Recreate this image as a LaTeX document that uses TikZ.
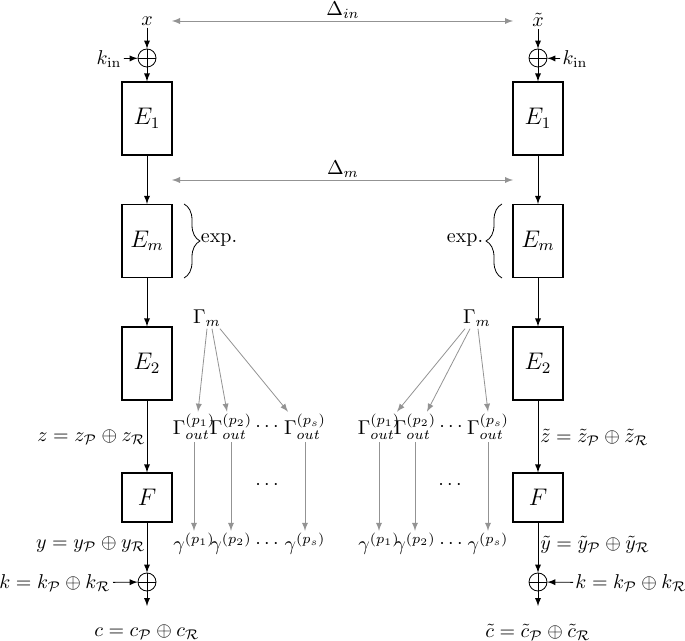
\documentclass[tikz,border=0pt]{standalone}
\usetikzlibrary{decorations.pathreplacing}
\begin{document}
\begin{tikzpicture}[x=0.5pt, y=-0.5pt, >=latex,
    block/.style={draw, semithick, minimum width=25pt, minimum height=36.5pt, font=\large},
    fblock/.style={block, minimum height=24.5pt},
    xorc/.style={circle, draw, minimum size=9pt, inner sep=0pt,
        path picture={\draw (path picture bounding box.north) -- (path picture bounding box.south)
            (path picture bounding box.west) -- (path picture bounding box.east);}},
    lbl/.style={inner sep=1pt},
    garrow/.style={->, gray!85},
    exbrace/.style={decorate, decoration={brace, amplitude=8pt}}]
    \useasboundingbox (0,0) rectangle (685,641);

    % Left chain
    \node [lbl] (xl) at (147,21) {$x$};
    \node [xorc] (xinl) at (147,58) {};
    \node [lbl] (kinl) at (109,59) {$k_{\mathrm{in}}$};
    \node [block] (e1l) at (147,118.5) {$E_1$};
    \node [block] (eml) at (147,241) {$E_m$};
    \node [block] (e2l) at (147,363.5) {$E_2$};
    \node [fblock] (fl) at (147,497.5) {$F$};
    \node [xorc] (xoutl) at (147,582) {};
    \node [lbl, anchor=east] (kl) at (113,583) {$k = k_{\mathcal{P}} \oplus k_{\mathcal{R}}$};
    \coordinate (endl) at (147,606);
    \node [lbl] (cl) at (147,632) {$c = c_{\mathcal{P}} \oplus c_{\mathcal{R}}$};
    \node [lbl, anchor=east] (zl) at (148,437) {$z = z_{\mathcal{P}} \oplus z_{\mathcal{R}}$};
    \node [lbl, anchor=east] (yl) at (148,545) {$y = y_{\mathcal{P}} \oplus y_{\mathcal{R}}$};
    \draw [->] (xl) -- (xinl);
    \draw [->] (kinl) -- (xinl);
    \draw [->] (xinl) -- (e1l);
    \draw [->] (e1l) -- (eml);
    \draw [->] (eml) -- (e2l);
    \draw [->] (e2l) -- (fl);
    \draw [->] (fl) -- (xoutl);
    \draw [->] (kl) -- (xoutl);
    \draw [->] (xoutl) -- (endl);

    % Right chain
    \node [lbl] (xr) at (538,20) {$\tilde{x}$};
    \node [xorc] (xinr) at (538,58) {};
    \node [lbl] (kinr) at (575,59) {$k_{\mathrm{in}}$};
    \node [block] (e1r) at (538,118.5) {$E_1$};
    \node [block] (emr) at (538,241) {$E_m$};
    \node [block] (e2r) at (538,363.5) {$E_2$};
    \node [fblock] (fr) at (538,497.5) {$F$};
    \node [xorc] (xoutr) at (538,582) {};
    \node [lbl, anchor=west] (kr) at (573,583) {$k = k_{\mathcal{P}} \oplus k_{\mathcal{R}}$};
    \coordinate (endr) at (538,606);
    \node [lbl] (cr) at (538,632) {$\tilde{c} = \tilde{c}_{\mathcal{P}} \oplus \tilde{c}_{\mathcal{R}}$};
    \node [lbl, anchor=west] (zr) at (538,437) {$\tilde{z} = \tilde{z}_{\mathcal{P}} \oplus \tilde{z}_{\mathcal{R}}$};
    \node [lbl, anchor=west] (yr) at (538,545) {$\tilde{y} = \tilde{y}_{\mathcal{P}} \oplus \tilde{y}_{\mathcal{R}}$};
    \draw [->] (xr) -- (xinr);
    \draw [->] (kinr) -- (xinr);
    \draw [->] (xinr) -- (e1r);
    \draw [->] (e1r) -- (emr);
    \draw [->] (emr) -- (e2r);
    \draw [->] (e2r) -- (fr);
    \draw [->] (fr) -- (xoutr);
    \draw [->] (kr) -- (xoutr);
    \draw [->] (xoutr) -- (endr);

    % Differences
    \coordinate (dinl) at (172,21);
    \coordinate (dinr) at (513,21);
    \coordinate (dml) at (172,180);
    \coordinate (dmr) at (513,180);
    \draw [<->, gray!85] (dinl) -- (dinr);
    \draw [<->, gray!85] (dml) -- (dmr);
    \node [lbl] (din) at (343,10) {$\Delta_{in}$};
    \node [lbl] (dm) at (343,169) {$\Delta_m$};

    % Expansion braces
    \draw [exbrace] (184,204) -- (184,278);
    \draw [exbrace] (502,278) -- (502,204);
    \node [lbl] (expl) at (219,240) {exp.};
    \node [lbl] (expr) at (465,240) {exp.};

    % Output differences, left
    \node [lbl] (gml) at (207,318) {$\Gamma_m$};
    \node [lbl] (go1l) at (194,427) {$\Gamma^{(p_1)}_{out}$};
    \node [lbl] (go2l) at (231,427) {$\Gamma^{(p_2)}_{out}$};
    \node [lbl] (godl) at (267,427) {$\cdots$};
    \node [lbl] (gosl) at (305,427) {$\Gamma^{(p_s)}_{out}$};
    \node [lbl] (mdl) at (267,485) {$\cdots$};
    \node [lbl] (ga1l) at (194,544) {$\gamma^{(p_1)}$};
    \node [lbl] (ga2l) at (231,544) {$\gamma^{(p_2)}$};
    \node [lbl] (gadl) at (267,544) {$\cdots$};
    \node [lbl] (gasl) at (305,544) {$\gamma^{(p_s)}$};
    \draw [garrow] (gml.south) -- ([xshift=2pt]go1l.north);
    \draw [garrow] ([xshift=2.5pt]gml.south) -- ([xshift=-2pt]go2l.north);
    \draw [garrow] ([xshift=6.5pt]gml.south) -- ([xshift=-8.5pt]gosl.north);
    \draw [garrow] (go1l) -- (ga1l);
    \draw [garrow] (go2l) -- (ga2l);
    \draw [garrow] (gosl) -- (gasl);

    % Output differences, right
    \node [lbl] (gmr) at (477,318) {$\Gamma_m$};
    \node [lbl] (go1r) at (379,427) {$\Gamma^{(p_1)}_{out}$};
    \node [lbl] (go2r) at (415,427) {$\Gamma^{(p_2)}_{out}$};
    \node [lbl] (godr) at (451,427) {$\cdots$};
    \node [lbl] (gosr) at (488,427) {$\Gamma^{(p_s)}_{out}$};
    \node [lbl] (mdr) at (450,485) {$\cdots$};
    \node [lbl] (ga1r) at (379,544) {$\gamma^{(p_1)}$};
    \node [lbl] (ga2r) at (415,544) {$\gamma^{(p_2)}$};
    \node [lbl] (gadr) at (451,544) {$\cdots$};
    \node [lbl] (gasr) at (488,544) {$\gamma^{(p_s)}$};
    \draw [garrow] ([xshift=-6pt]gmr.south) -- ([xshift=9pt]go1r.north);
    \draw [garrow] ([xshift=-3.5pt]gmr.south) -- ([xshift=6pt]go2r.north);
    \draw [garrow] ([xshift=0.5pt]gmr.south) -- (gosr.north);
    \draw [garrow] (go1r) -- (ga1r);
    \draw [garrow] (go2r) -- (ga2r);
    \draw [garrow] (gosr) -- (gasr);
\end{tikzpicture}
\end{document}
